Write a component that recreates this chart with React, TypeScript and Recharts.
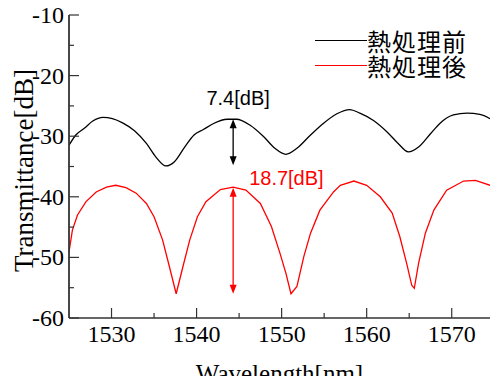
import React from 'react';
import { LineChart, Line, XAxis, YAxis, ReferenceLine, Legend } from 'recharts';

const beforeWl = [1525.0, 1525.8, 1526.8, 1527.8, 1529.0, 1530.1, 1531.3, 1532.7, 1534.1, 1535.2, 1536.4, 1537.4, 1538.6, 1539.7, 1540.8, 1542.0, 1543.6, 1544.7, 1546.3, 1547.9, 1549.2, 1550.5, 1551.8, 1553.4, 1554.9, 1556.5, 1558.0, 1559.2, 1560.8, 1562.4, 1563.7, 1564.9, 1566.1, 1567.5, 1568.6, 1570.2, 1571.8, 1573.3, 1574.5];
const beforeDb = [-31.5, -29.8, -28.7, -27.5, -26.9, -27.1, -27.8, -29.1, -31.2, -33.4, -34.9, -34.2, -31.8, -29.8, -28.9, -27.9, -27.2, -27.2, -28.2, -30.1, -32.0, -33.0, -32.0, -29.8, -27.9, -26.3, -25.6, -26.2, -27.4, -29.3, -31.2, -32.6, -31.8, -29.6, -27.9, -26.5, -26.2, -26.4, -27.1];

const afterWl = [1525.0, 1525.4, 1526.0, 1527.0, 1528.2, 1529.4, 1530.5, 1531.7, 1532.9, 1534.1, 1535.0, 1536.0, 1536.8, 1537.6, 1538.4, 1539.2, 1540.1, 1541.1, 1542.8, 1544.3, 1545.8, 1547.5, 1548.8, 1549.8, 1550.5, 1551.1, 1551.8, 1552.6, 1553.4, 1554.5, 1556.1, 1556.9, 1558.5, 1560.0, 1561.6, 1563.0, 1563.9, 1564.7, 1565.3, 1565.6, 1566.1, 1566.9, 1567.9, 1569.4, 1571.4, 1572.8, 1574.5];
const afterDb = [-49.1, -45.5, -43.0, -40.8, -39.2, -38.4, -38.1, -38.5, -39.4, -41.1, -43.3, -47.1, -51.5, -56.0, -51.5, -47.1, -43.3, -40.8, -38.8, -38.4, -38.9, -41.1, -44.9, -49.3, -52.6, -56.0, -54.8, -49.9, -46.0, -42.2, -39.2, -38.1, -37.4, -38.1, -40.0, -42.7, -46.6, -51.0, -54.6, -55.1, -51.0, -46.0, -42.2, -38.9, -37.4, -37.3, -38.1];

const seriesNames = ['熱処理前', '熱処理後'];
const seriesColors = ['#000000', '#ff0000'];

const xTicks = [1530, 1535, 1540, 1545, 1550, 1555, 1560, 1565, 1570];
const yTicks = [-60, -55, -50, -45, -40, -35, -30, -25, -20, -15, -10];
const xDomain = [1525, 1574.5];
const yDomain = [-60, -10];

// annotation values: arrow wavelength, top and bottom dB, label text
const arrowWl = [1544.3, 1544.3];
const arrowTop = [-27.2, -38.5];
const arrowBottom = [-34.8, -56.0];
const arrowLabels = ['7.4[dB]', '18.7[dB]'];

const beforeData = beforeWl.map((wl, i) => ({ wl, db: beforeDb[i] }));
const afterData = afterWl.map((wl, i) => ({ wl, db: afterDb[i] }));

const AXIS = '#333';
const SERIF = '"Liberation Serif", "Times New Roman", serif';
const SANS = '"Liberation Sans", Arial, sans-serif';
const serifStyle = { fontFamily: SERIF };

const isMajor = (v: number) => Math.round(v) % 10 === 0;

const BottomTick = (props: any) => {
  const { x, y, payload } = props;
  const major = isMajor(payload.value);
  return (
    <g>
      <line x1={x} y1={y} x2={x} y2={y - (major ? 10 : 5)} stroke={AXIS} strokeWidth={1.2} />
      {major && (
        <text x={x} y={y + 24} textAnchor="middle" style={serifStyle} fontSize={24} fill="#000">
          {String(payload.value)}
        </text>
      )}
    </g>
  );
};

const TopTick = (props: any) => {
  const { x, y, payload } = props;
  const major = isMajor(payload.value);
  return <line x1={x} y1={y} x2={x} y2={y + (major ? 10 : 5)} stroke={AXIS} strokeWidth={1.2} />;
};

const LeftTick = (props: any) => {
  const { x, y, payload } = props;
  const major = isMajor(payload.value);
  return (
    <g>
      <line x1={x} y1={y} x2={x + (major ? 10 : 5)} y2={y} stroke={AXIS} strokeWidth={1.2} />
      {major && (
        <text x={x - 5} y={y + 8} textAnchor="end" style={serifStyle} fontSize={24} fill="#000">
          {String(payload.value)}
        </text>
      )}
    </g>
  );
};

const RightTick = (props: any) => {
  const { x, y, payload } = props;
  const major = isMajor(payload.value);
  return <line x1={x} y1={y} x2={x - (major ? 10 : 5)} y2={y} stroke={AXIS} strokeWidth={1.2} />;
};

const makeArrow = (color: string, text: string, textDx: number, textDy: number, anchor: string) => (props: any) => {
  const { x1, y1, y2 } = props;
  const top = Math.min(y1, y2);
  const bot = Math.max(y1, y2);
  const x = x1;
  return (
    <g>
      <line x1={x} y1={top + 6} x2={x} y2={bot - 6} stroke={color} strokeWidth={1.3} />
      <polygon points={`${x},${top} ${x - 3.5},${top + 9} ${x + 3.5},${top + 9}`} fill={color} />
      <polygon points={`${x},${bot} ${x - 3.5},${bot - 9} ${x + 3.5},${bot - 9}`} fill={color} />
      <text x={x + textDx} y={top + textDy} textAnchor={anchor} style={{ fontFamily: SANS }} fontSize={20} fill={color}>
        {text}
      </text>
    </g>
  );
};

const arrowShapes = [
  makeArrow(seriesColors[0], arrowLabels[0], 5, -14, 'middle'),
  makeArrow(seriesColors[1], arrowLabels[1], 16, -3, 'start'),
];

const LegendContent = () => (
  <div style={{ fontFamily: '"Noto Sans CJK JP", sans-serif', fontSize: 24, letterSpacing: 1, color: '#000' }}>
    {seriesNames.map((n, i) => (
      <div key={n} style={{ display: 'flex', alignItems: 'center', height: 25 }}>
        <span style={{ display: 'inline-block', width: 52, height: 1.5, background: seriesColors[i] }} />
        <span style={{ lineHeight: '24px', whiteSpace: 'nowrap' }}>{n}</span>
      </div>
    ))}
  </div>
);

const YLabel = (props: any) => {
  const { viewBox } = props;
  const cy = viewBox.y + viewBox.height / 2 + 4;
  const x = 33;
  return (
    <text x={x} y={cy} transform={`rotate(-90 ${x} ${cy})`} textAnchor="middle" style={serifStyle} fontSize={27} fill="#000">
      Transmittance[dB]
    </text>
  );
};

const XLabel = (props: any) => {
  const { viewBox } = props;
  const cx = viewBox.x + viewBox.width / 2;
  return (
    <text x={cx} y={viewBox.y + 64} textAnchor="middle" style={serifStyle} fontSize={25} fill="#000">
      Wavelength[nm]
    </text>
  );
};

export default function App() {
  return (
    <div style={{ position: 'absolute', left: 0, top: 0, width: 491, height: 376, background: '#fff' }}>
      <LineChart width={491} height={376} margin={{ top: 15, right: 1, bottom: 0, left: 0 }} style={serifStyle}>
        <XAxis
          xAxisId={0}
          type="number"
          dataKey="wl"
          domain={xDomain}
          ticks={xTicks}
          interval={0}
          allowDataOverflow
          height={58}
          tickSize={0}
          tickMargin={0}
          tick={<BottomTick />}
          axisLine={{ stroke: AXIS, strokeWidth: 1.5 }}
          label={<XLabel />}
        />
        <XAxis
          xAxisId="top"
          orientation="top"
          type="number"
          dataKey="wl"
          domain={xDomain}
          ticks={xTicks}
          interval={0}
          allowDataOverflow
          height={0}
          tickSize={0}
          tickMargin={0}
          tick={<TopTick />}
          axisLine={{ stroke: AXIS, strokeWidth: 1.5 }}
        />
        <YAxis
          yAxisId={0}
          type="number"
          domain={yDomain}
          ticks={yTicks}
          interval={0}
          allowDataOverflow
          width={69}
          tickSize={0}
          tickMargin={0}
          tick={<LeftTick />}
          axisLine={{ stroke: AXIS, strokeWidth: 1.8 }}
          label={<YLabel />}
        />
        <YAxis
          yAxisId="right"
          orientation="right"
          type="number"
          domain={yDomain}
          ticks={yTicks}
          interval={0}
          allowDataOverflow
          width={0}
          tickSize={0}
          tickMargin={0}
          tick={<RightTick />}
          axisLine={{ stroke: AXIS, strokeWidth: 1.5 }}
        />
        <Line
          data={beforeData}
          dataKey="db"
          name={seriesNames[0]}
          type="monotone"
          stroke={seriesColors[0]}
          strokeWidth={1.3}
          dot={false}
          isAnimationActive={false}
        />
        <Line
          data={afterData}
          dataKey="db"
          name={seriesNames[1]}
          type="linear"
          stroke={seriesColors[1]}
          strokeWidth={1.3}
          dot={false}
          isAnimationActive={false}
        />
        {arrowWl.map((wl, i) => (
          <ReferenceLine
            key={i}
            segment={[{ x: wl, y: arrowTop[i] }, { x: wl, y: arrowBottom[i] }]}
            stroke={seriesColors[i]}
            shape={arrowShapes[i]}
          />
        ))}
        <Legend
          layout="vertical"
          align="center"
          verticalAlign="middle"
          content={<LegendContent />}
          wrapperStyle={{ left: 315, top: 28, width: 'auto', height: 'auto' }}
        />
      </LineChart>
    </div>
  );
}
